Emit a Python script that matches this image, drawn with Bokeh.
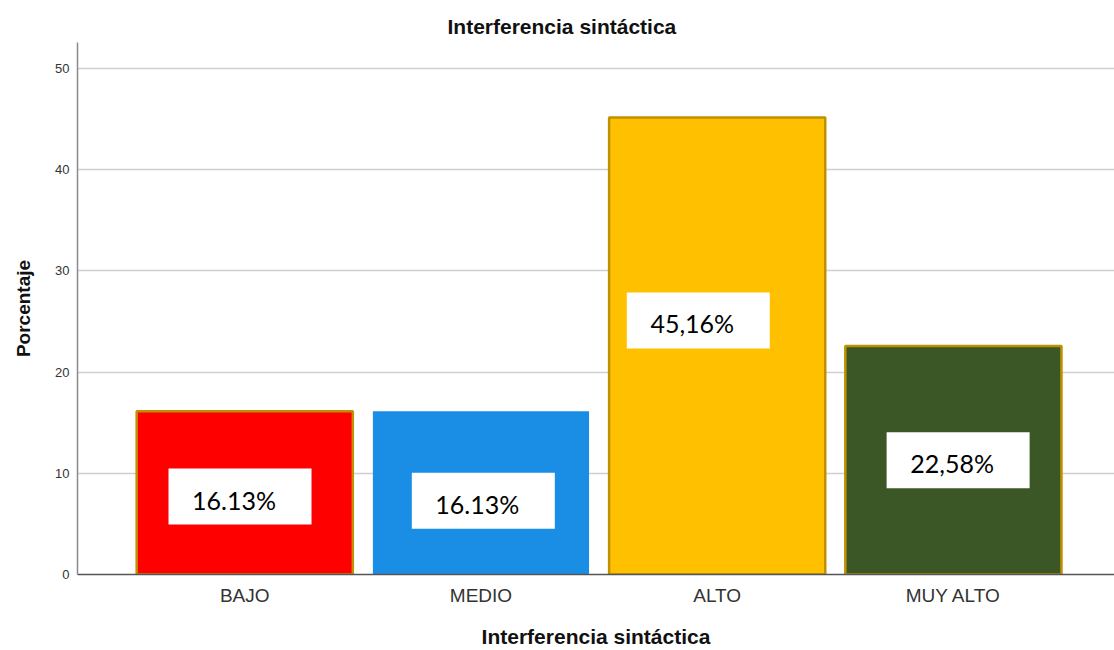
from bokeh.plotting import figure
from bokeh.models import ColumnDataSource, Range1d, FixedTicker
from bokeh.core.properties import value
from bokeh.embed import file_html
from bokeh.resources import INLINE

categories = ["BAJO", "MEDIO", "ALTO", "MUY ALTO"]
percentages = [16.13, 16.13, 45.16, 22.58]
label_texts = ["16.13%", "16.13%", "45,16%", "22,58%"]
y_ticks = [0, 10, 20, 30, 40, 50]

bar_colors = ["#FF0000", "#1A8DE4", "#FFC000", "#3B5726"]
outline_alpha = [1, 0, 1, 1]
# text-box placement (data units) as drawn on the original
label_x = [-0.02, 1.01, 1.92, 3.02]
label_y = [7.7, 7.3, 25.1, 11.3]

idx = list(range(len(categories)))
src = ColumnDataSource(dict(x=idx, top=percentages, color=bar_colors, la=outline_alpha))
lab = ColumnDataSource(dict(x=label_x, y=label_y, text=label_texts))

p = figure(width=1114, height=650, output_backend="svg", toolbar_location=None,
           x_range=Range1d(-0.708, 3.682), y_range=Range1d(0, 52.57),
           min_border_left=77, min_border_right=0, min_border_top=42, min_border_bottom=70,
           background_fill_color="white", border_fill_color="white")
p.outline_line_color = None

p.title.text = "Interferencia sintáctica"
p.title.text_font = "Liberation Sans"
p.title.text_font_size = "21px"
p.title.text_font_style = "bold"
p.title.text_color = "#111111"
p.title.align = "left"
p.title.offset = 370

p.vbar(x="x", top="top", bottom=0, width=0.915, source=src, fill_color="color",
       line_color="#BF9000", line_width=2.5, line_alpha="la")

p.rect(x="x", y="y", width=143, height=56, width_units="screen", height_units="screen",
       source=lab, fill_color="white", line_color=None)
p.text(x="x", y="y", text="text", source=lab, text_font=value("Lato"), text_font_size="25px",
       text_color="black", text_align="center", text_baseline="middle",
       x_offset=-6, y_offset=3)

p.xgrid.grid_line_color = None
p.ygrid.grid_line_color = "#cfcfcf"
p.ygrid.grid_line_width = 1.5
p.ygrid.ticker = FixedTicker(ticks=y_ticks)

p.yaxis.ticker = FixedTicker(ticks=y_ticks)
p.yaxis.axis_label = "Porcentaje"
p.yaxis.axis_label_text_font = "Liberation Sans"
p.yaxis.axis_label_text_font_size = "19px"
p.yaxis.axis_label_text_font_style = "bold"
p.yaxis.axis_label_text_color = "#111111"
p.yaxis.axis_label_standoff = 18
p.yaxis.major_label_text_font = "Liberation Sans"
p.yaxis.major_label_text_font_size = "13px"
p.yaxis.major_label_text_color = "#333333"
p.yaxis.major_label_standoff = 8
p.yaxis.major_tick_out = 0
p.yaxis.major_tick_in = 0
p.yaxis.minor_tick_line_color = None
p.yaxis.axis_line_color = "#8a8a8a"
p.yaxis.axis_line_width = 1.5

p.xaxis.ticker = FixedTicker(ticks=idx)
p.xaxis.major_label_overrides = {i: c for i, c in zip(idx, categories)}
p.xaxis.axis_label = "Interferencia sintáctica"
p.xaxis.axis_label_text_font = "Liberation Sans"
p.xaxis.axis_label_text_font_size = "21px"
p.xaxis.axis_label_text_font_style = "bold"
p.xaxis.axis_label_text_color = "#111111"
p.xaxis.axis_label_standoff = 16
p.xaxis.major_label_text_font = "Liberation Sans"
p.xaxis.major_label_text_font_size = "19px"
p.xaxis.major_label_text_color = "#333333"
p.xaxis.major_label_standoff = 10
p.xaxis.major_tick_out = 0
p.xaxis.major_tick_in = 0
p.xaxis.minor_tick_line_color = None
p.xaxis.axis_line_color = "#555555"
p.xaxis.axis_line_width = 1.5

open("out.html", "w").write(file_html(p, INLINE))
